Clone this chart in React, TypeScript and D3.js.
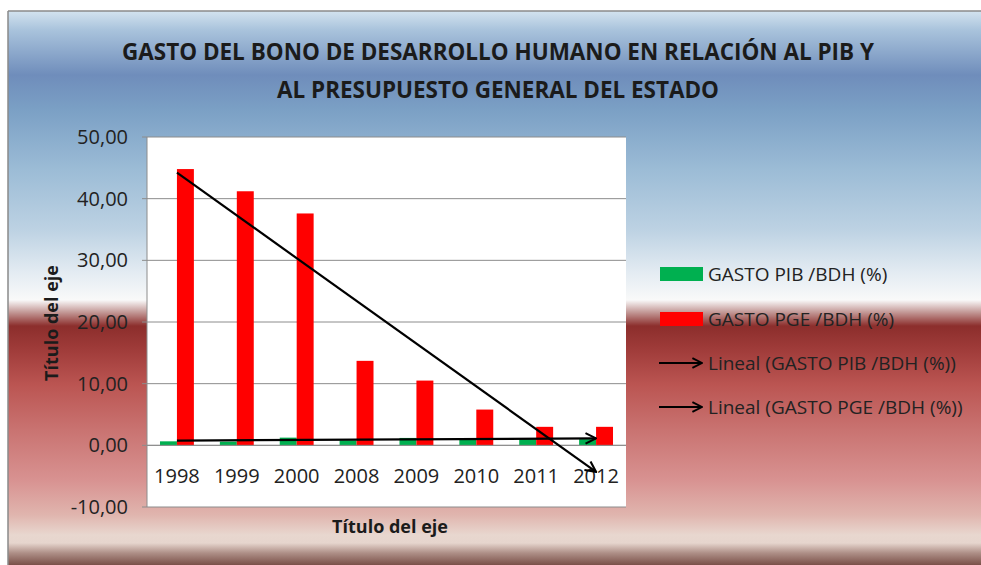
import React from "react";
import * as d3 from "d3";

const categories = ["1998", "1999", "2000", "2008", "2009", "2010", "2011", "2012"];
const gastoPIB = [0.65, 0.6, 1.25, 0.8, 1.2, 1.1, 1.0, 1.0];
const gastoPGE = [44.8, 41.2, 37.6, 13.7, 10.5, 5.8, 3.0, 3.0];
const yTicks = [-10, 0, 10, 20, 30, 40, 50];
const seriesNames = ["GASTO PIB /BDH (%)", "GASTO PGE /BDH (%)"];
const legendLabels = [
  "GASTO PIB /BDH (%)",
  "GASTO PGE /BDH (%)",
  "Lineal (GASTO PIB /BDH (%))",
  "Lineal (GASTO PGE /BDH (%))",
];
const titleLines = [
  "GASTO DEL BONO DE DESARROLLO HUMANO EN RELACIÓN AL PIB Y",
  "AL PRESUPUESTO GENERAL DEL ESTADO",
];
const axisTitle = "Título del eje";

const W = 981;
const H = 565;
const plot = { left: 147, right: 626, top: 137, bottom: 507 };
const colors = ["#00b050", "#ff0000"];

function linReg(vals: number[]) {
  const n = vals.length;
  const xs = vals.map((_, i) => i + 1);
  const mx = d3.mean(xs)!;
  const my = d3.mean(vals)!;
  let sxy = 0, sxx = 0;
  xs.forEach((x, i) => {
    sxy += (x - mx) * (vals[i] - my);
    sxx += (x - mx) * (x - mx);
  });
  const slope = sxy / sxx;
  const intercept = my - slope * mx;
  return { start: intercept + slope * 1, end: intercept + slope * n };
}

const locale = d3.formatLocale({
  decimal: ",",
  thousands: ".",
  grouping: [3],
  currency: ["", "€"],
  minus: "-",
});
const fmt = locale.format(".2f");

export default function App() {
  const y = d3.scaleLinear().domain([-10, 50]).range([plot.bottom, plot.top]);
  const p = 0.434;
  const x0 = d3
    .scaleBand<string>()
    .domain(categories)
    .range([plot.left, plot.right])
    .paddingInner(p)
    .paddingOuter(p / 2);
  const x1 = d3
    .scaleBand<string>()
    .domain(seriesNames)
    .range([0, x0.bandwidth()]);
  const center = (c: string) => x0(c)! + x0.bandwidth() / 2;

  const trends = [linReg(gastoPIB), linReg(gastoPGE)];
  const first = categories[0];
  const last = categories[categories.length - 1];

  const bgStops: [number, string][] = [
    [11, "#d3e3ef"],
    [30, "#a9c3dc"],
    [75, "#6f8dbb"],
    [110, "#7ba0c5"],
    [170, "#9cbcd6"],
    [230, "#bdd2e3"],
    [272, "#e3ebf2"],
    [300, "#f9f9f9"],
    [312, "#c49a98"],
    [326, "#8c2e2c"],
    [350, "#a03c3a"],
    [385, "#bb5552"],
    [430, "#c97371"],
    [480, "#d89291"],
    [515, "#e0b5ae"],
    [535, "#e8d7cf"],
    [543, "#e6d5cd"],
    [553, "#ae8f87"],
    [565, "#7a5048"],
  ];
  const yTop = 11;
  const yBot = 565;

  const legendYs = [274, 319, 363, 407];

  return (
    <svg
      width={W}
      height={H}
      style={{ position: "absolute", left: 0, top: 0, background: "#ffffff" }}
      fontFamily="'Open Sans', sans-serif"
    >
      <defs>
        <linearGradient id="bg" gradientUnits="userSpaceOnUse" x1={0} y1={yTop} x2={0} y2={yBot}>
          {bgStops.map(([yy, c], i) => (
            <stop key={i} offset={(yy - yTop) / (yBot - yTop)} stopColor={c} />
          ))}
        </linearGradient>
        <marker
          id="arrow"
          viewBox="0 0 10 10"
          refX={9}
          refY={5}
          markerWidth={6}
          markerHeight={6}
          orient="auto"
          markerUnits="strokeWidth"
        >
          <path d="M1,1 L9,5 L1,9" fill="none" stroke="#000" strokeWidth={1.6} />
        </marker>
      </defs>

      <rect x={8} y={11} width={W - 8} height={H - 11} fill="url(#bg)" />
      <line x1={8} y1={11} x2={W} y2={11} stroke="#8a8a8a" strokeWidth={1.5} />
      <line x1={8} y1={11} x2={8} y2={H} stroke="#8a8a8a" strokeWidth={1.5} />

      {titleLines.map((t, i) => (
        <text
          key={i}
          x={498}
          y={60 + i * 38}
          textAnchor="middle"
          fontWeight="bold"
          fontSize={24}
          fill="#1b1b1b"
          textLength={i === 0 ? 752 : 442}
          lengthAdjust="spacingAndGlyphs"
        >
          {t}
        </text>
      ))}

      <rect
        x={plot.left}
        y={plot.top}
        width={plot.right - plot.left}
        height={plot.bottom - plot.top}
        fill="#ffffff"
      />

      {yTicks.map((t) => (
        <g key={t}>
          <line
            x1={plot.left - 5}
            x2={plot.right}
            y1={y(t)}
            y2={y(t)}
            stroke="#8c8c8c"
            strokeWidth={1}
          />
          <text
            x={128}
            y={y(t)}
            dy="0.35em"
            textAnchor="end"
            fontSize={20}
            fill="#222"
          >
            {fmt(t)}
          </text>
        </g>
      ))}
      <line x1={plot.left} x2={plot.left} y1={plot.top} y2={plot.bottom} stroke="#8c8c8c" />

      {categories.map((c, i) => (
        <g key={c}>
          <rect
            x={x0(c)! + x1(seriesNames[0])!}
            y={y(Math.max(0, gastoPIB[i]))}
            width={x1.bandwidth()}
            height={Math.abs(y(gastoPIB[i]) - y(0))}
            fill={colors[0]}
          />
          <rect
            x={x0(c)! + x1(seriesNames[1])!}
            y={y(Math.max(0, gastoPGE[i]))}
            width={x1.bandwidth()}
            height={Math.abs(y(gastoPGE[i]) - y(0))}
            fill={colors[1]}
          />
          <text
            x={center(c)}
            y={y(-5)}
            dy="0.35em"
            textAnchor="middle"
            fontSize={20}
            fill="#222"
          >
            {c}
          </text>
        </g>
      ))}
      <line x1={plot.left} x2={plot.right} y1={y(0)} y2={y(0)} stroke="#8c8c8c" />

      {trends.map((tr, i) => (
        <line
          key={i}
          x1={center(first)}
          y1={y(tr.start)}
          x2={center(last)}
          y2={y(tr.end)}
          stroke="#000"
          strokeWidth={2.2}
          markerEnd="url(#arrow)"
        />
      ))}

      <text
        x={390}
        y={527}
        dy="0.35em"
        textAnchor="middle"
        fontWeight="bold"
        fontSize={18}
        fill="#1b1b1b"
      >
        {axisTitle}
      </text>
      <text
        transform={`translate(52,${323}) rotate(-90)`}
        dy="0.35em"
        textAnchor="middle"
        fontWeight="bold"
        fontSize={18}
        fill="#1b1b1b"
      >
        {axisTitle}
      </text>

      {legendLabels.map((l, i) => (
        <g key={l}>
          {i < 2 ? (
            <rect x={660} y={legendYs[i] - 7} width={43} height={14} fill={colors[i]} />
          ) : (
            <line
              x1={659}
              x2={702}
              y1={legendYs[i]}
              y2={legendYs[i]}
              stroke="#000"
              strokeWidth={2}
              markerEnd="url(#arrow)"
            />
          )}
          <text
            x={708}
            y={legendYs[i]}
            dy="0.35em"
            fontSize={19}
            fill="#222"
          >
            {l}
          </text>
        </g>
      ))}
    </svg>
  );
}
